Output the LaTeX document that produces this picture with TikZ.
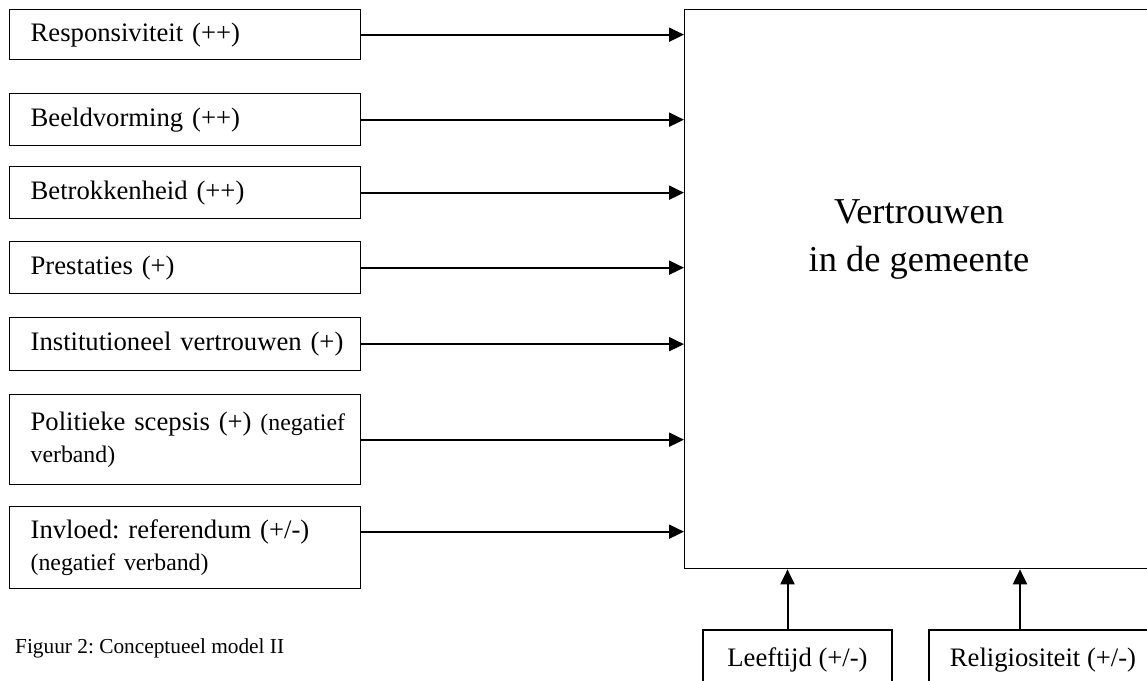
\documentclass[tikz,border=0pt]{standalone}
\usepackage{fontspec}
\setmainfont{Liberation Serif}
\usetikzlibrary{arrows.meta,calc}
\newcommand\negsz{\fontsize{10.7}{14.4}\selectfont}
\frenchspacing
\begin{document}
\begin{tikzpicture}[x=0.45pt,y=-0.45pt,
  lbox/.style={draw, line width=0.6pt, anchor=north west, text width=139pt,
    inner xsep=9.45pt, inner ysep=0pt, align=left,
    font=\fontsize{12}{14.4}\selectfont},
  bbox/.style={draw, line width=0.6pt, inner sep=0pt,
    font=\fontsize{12}{14.4}\selectfont},
  conn/.style={-{Triangle[length=6.75pt,width=6.3pt]}, line width=0.9pt}]
\useasboundingbox (0,0) rectangle (1147,681);
\clip (0,0) rectangle (1147,681);

% left boxes
\node[lbox, minimum height=22.5pt] (b1) at (9,9) {\mbox{Responsiviteit (++)}};
\node[lbox, minimum height=23.4pt] (b2) at (9,93) {\mbox{Beeldvorming (++)}};
\node[lbox, minimum height=23.4pt] (b3) at (9,166) {\mbox{Betrokkenheid (++)}};
\node[lbox, minimum height=23.4pt] (b4) at (9,241) {\mbox{Prestaties (+)}};
\node[lbox, minimum height=23.85pt] (b5) at (9,317) {\mbox{Institutioneel vertrouwen (+)}};
\node[lbox, minimum height=40.5pt] (b6) at (9,394) {\mbox{Politieke scepsis (+) {\negsz(negatief}}\\{\negsz verband)}};
\node[lbox, minimum height=36.9pt] (b7) at (9,506) {\mbox{Invloed: referendum (+/-)}\\{\negsz(negatief verband)}};

% main box
\node[draw, line width=0.6pt, anchor=north west, inner sep=0pt,
  minimum width=210.6pt, minimum height=251.55pt] (main) at (684,9) {};
\node[font=\fontsize{16.4}{22}\selectfont, align=center] (mt) at (919,239.5)
  {Vertrouwen\\in de gemeente};

% bottom boxes
\node[bbox, minimum width=85.05pt, minimum height=27pt] (lee) at (797.5,660) {Leeftijd (+/-)};
\node[bbox, minimum width=102.6pt, minimum height=27pt] (rel) at (1043,660) {Religiositeit (+/-)};

% caption
\node[anchor=base west, inner sep=0pt, font=\fontsize{9.6}{11}\selectfont] (cap) at (14.7,654)
  {Figuur 2: Conceptueel model II};

% connectors
\foreach \n in {b1,b2,b3,b4,b5,b6}
  \draw[conn] (\n.east) -- (\n.east -| main.west);
\draw[conn] ([yshift=7.2pt]b7.east) -- ([yshift=7.2pt]b7.east -| main.west);
\draw[conn] ($(lee.north)+(-10,0)$) -- ($(lee.north |- main.south)+(-10,0)$);
\draw[conn] ($(rel.north)+(-23,0)$) -- ($(rel.north |- main.south)+(-23,0)$);
\end{tikzpicture}
\end{document}
